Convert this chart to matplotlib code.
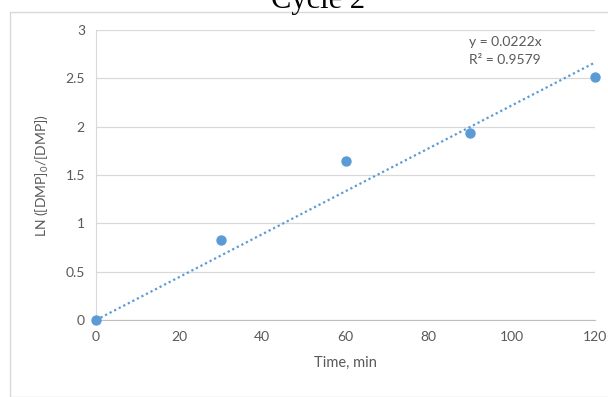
import matplotlib
matplotlib.use("Agg")
from matplotlib import pyplot as plt
from matplotlib.patches import Rectangle
import numpy as np

# data
time_min = [0, 30, 60, 90, 120]
ln_ratio = [0.0, 0.83, 1.65, 1.93, 2.51]
slope = 0.0222
r_squared = 0.9579
x_ticks = [0, 20, 40, 60, 80, 100, 120]
y_ticks = [0, 0.5, 1, 1.5, 2, 2.5, 3]

plt.rcParams['font.family'] = ['Lato', 'DejaVu Sans']
gray_txt = '#595959'
blue = '#5b9bd5'

fig = plt.figure(figsize=[6.08, 3.97], dpi=100)
W, H = 608, 397

# chart frame
fig.patches.append(Rectangle((10 / W, 0), 1, 1 - 12 / H, transform=fig.transFigure,
                             fill=False, edgecolor='#d9d9d9', linewidth=1))

# title, partly cut off at the top like in the original
fig.text(318 / W, 1 - 8 / H, 'Cycle 2', family='Liberation Serif', fontsize=22,
         ha='center', va='baseline', color='black')

ax = fig.add_axes([96 / W, 77 / H, (595 - 96) / W, 290 / H])
ax.set_xlim(0, 120)
ax.set_ylim(0, 3)
ax.set_xticks(x_ticks)
ax.set_yticks(y_ticks)
ax.set_yticklabels([f'{v:g}' for v in y_ticks])
ax.grid(axis='y', color='#d9d9d9', linewidth=0.9)
ax.set_axisbelow(True)
for s in ['top', 'right']:
    ax.spines[s].set_visible(False)
ax.spines['left'].set_color('#d9d9d9')
ax.spines['bottom'].set_color('#bfbfbf')
ax.tick_params(length=0, labelsize=10, colors=gray_txt, pad=8)

# trend line through origin
fit_x = np.array([0, 120])
ax.plot(fit_x, slope * fit_x, linestyle=(0, (1, 1.3)), color=blue, linewidth=1.6,
        clip_on=False)
ax.scatter(time_min, ln_ratio, s=42, color=blue, zorder=3, clip_on=False)

ax.text(98.4, 2.88, f'y = {slope}x', fontsize=10, color=gray_txt, ha='center', va='center')
ax.text(98.4, 2.69, f'R² = {r_squared}', fontsize=10, color=gray_txt, ha='center', va='center')

ax.set_xlabel('Time, min', fontsize=10.5, color=gray_txt, labelpad=9)
ax.set_ylabel(r'LN ([DMP]$_\mathregular{0}$/[DMP])', fontsize=10, color=gray_txt, labelpad=10)

plt.savefig('out.png', dpi=100)
